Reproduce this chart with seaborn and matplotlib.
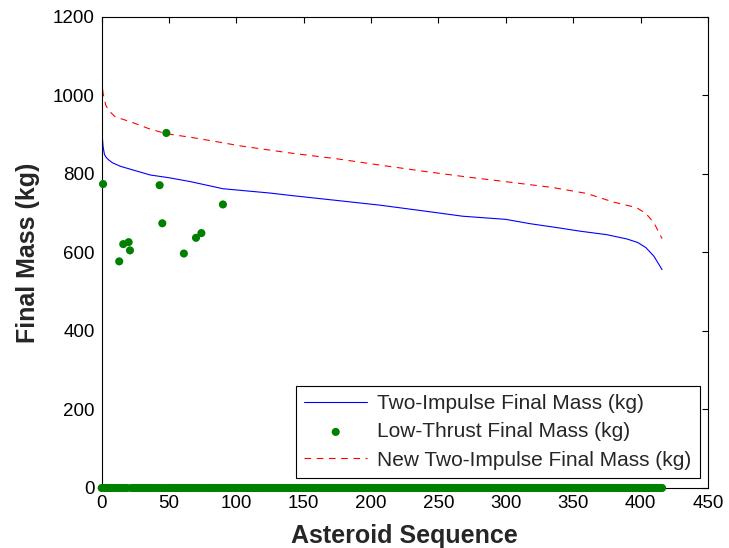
import numpy as np
import pandas as pd
import matplotlib
matplotlib.use("Agg")
import matplotlib.pyplot as plt
import seaborn as sns

# Asteroid indices (sequence sorted by two-impulse final mass)
n_asteroids = 417

# Two-impulse final mass (kg), sampled along the sequence
two_imp_x = [0, 1, 2, 3, 5, 8, 14, 25, 36, 50, 66, 90, 125, 140, 175, 207,
             240, 268, 300, 318, 340, 355, 375, 390, 398, 404, 410, 416]
two_imp_y = [916, 870, 850, 843, 836, 828, 819, 808, 797, 790, 780, 762, 751,
             745, 732, 720, 705, 692, 684, 673, 662, 654, 645, 634, 625, 612,
             590, 556]

# New two-impulse final mass (kg)
new_imp_x = [0, 1, 3, 5, 10, 21, 35, 48, 66, 85, 103, 140, 175, 207, 240, 271,
             300, 335, 360, 380, 397, 404, 410, 416]
new_imp_y = [1045, 1005, 975, 962, 945, 933, 915, 902, 893, 882, 871, 853, 838,
             822, 806, 792, 780, 765, 750, 728, 714, 699, 675, 635]

# Low-thrust final mass (kg): asteroids with a converged low-thrust solution;
# every other asteroid in the sequence sits at 0
low_thrust_idx = [1, 13, 16, 20, 21, 43, 45, 48, 61, 70, 74, 90]
low_thrust_val = [774, 577, 621, 626, 605, 771, 674, 904, 597, 637, 649, 722]

low_thrust = np.zeros(n_asteroids)
low_thrust[low_thrust_idx] = low_thrust_val
lt_df = pd.DataFrame({"seq": np.arange(n_asteroids), "mass": low_thrust})

sns.set_style("white")
plt.rcParams["font.family"] = ["Liberation Sans", "DejaVu Sans"]

fig = plt.figure(figsize=(7.29, 5.48), dpi=100)
ax = fig.add_axes([0.1395, 0.1095, 0.8315, 0.86])

sns.lineplot(x=two_imp_x, y=two_imp_y, ax=ax, color=(0, 0, 1), linewidth=0.8,
             label="Two-Impulse Final Mass (kg)", sort=False)
sns.scatterplot(data=lt_df, x="seq", y="mass", ax=ax, color=(0, 0.5, 0),
                s=34, edgecolor="none", linewidth=0, zorder=3, clip_on=False,
                label="Low-Thrust Final Mass (kg)")
sns.lineplot(x=new_imp_x, y=new_imp_y, ax=ax, color=(1, 0, 0), linewidth=0.8,
             linestyle=(0, (6, 5)), label="New Two-Impulse Final Mass (kg)",
             sort=False)

ax.set_xlim(0, 450)
ax.set_ylim(0, 1200)
ax.set_xticks(np.arange(0, 451, 50))
ax.set_yticks(np.arange(0, 1201, 200))
ax.tick_params(direction="in", length=4, width=0.8, top=True, right=True,
               labelsize=13.5, pad=5, colors="black")
for sp in ax.spines.values():
    sp.set_color("black")
    sp.set_linewidth(0.8)

ax.set_xlabel("Asteroid Sequence", fontsize=18, fontweight="bold", labelpad=9)
ax.set_ylabel("Final Mass (kg)", fontsize=18, fontweight="bold", labelpad=9)

leg = ax.legend(loc="lower right", bbox_to_anchor=(0.987, 0.021), fontsize=15,
                frameon=True, fancybox=False, edgecolor="black",
                handlelength=3.0, handletextpad=0.5, labelspacing=0.45,
                borderpad=0.4, borderaxespad=0)
leg.get_frame().set_linewidth(0.8)
leg.get_frame().set_alpha(1)

fig.savefig("out.png", dpi=100)
